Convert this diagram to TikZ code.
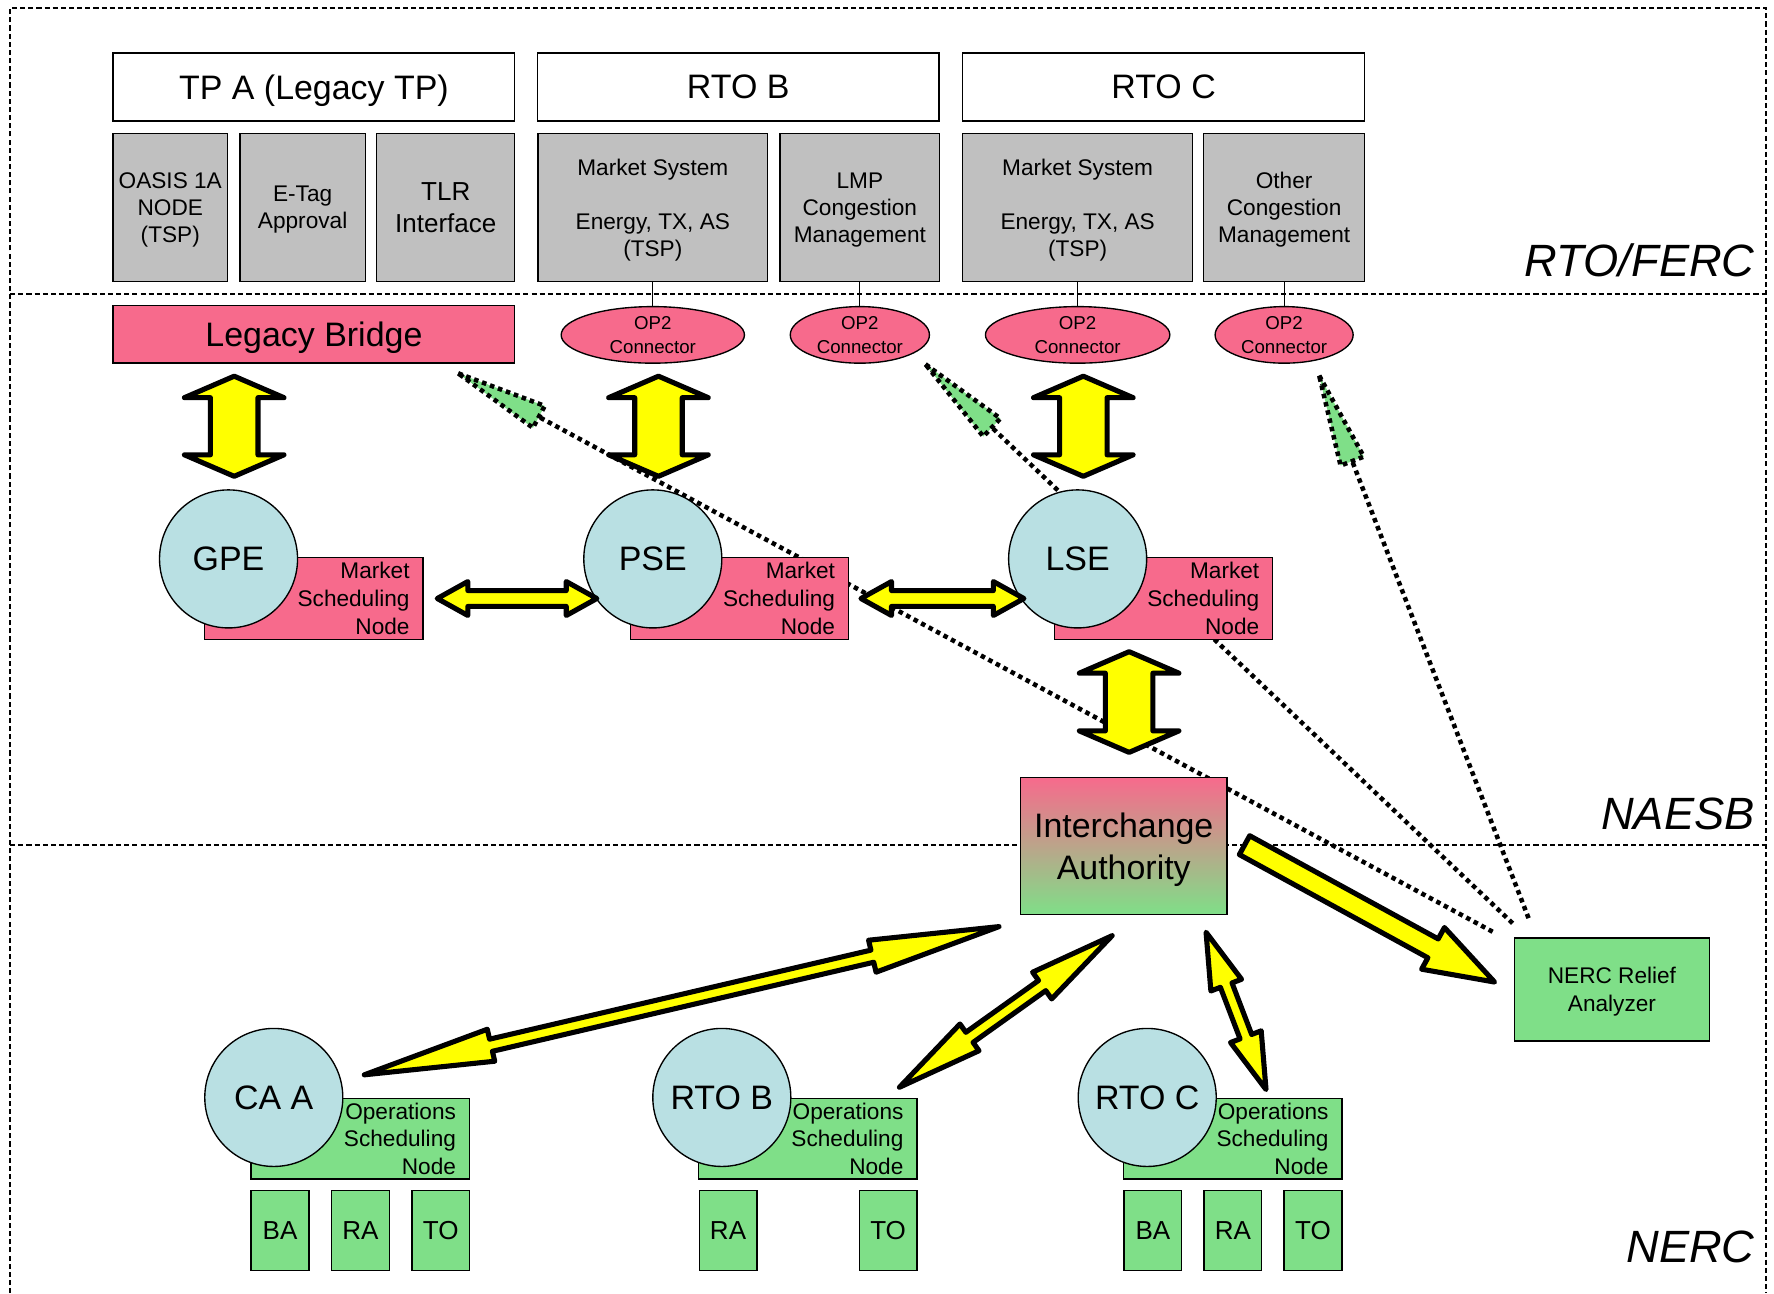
\documentclass[tikz,border=0pt]{standalone}
\usepackage{fontspec}
\setmainfont{Liberation Sans}
\usetikzlibrary{calc,shapes.geometric}
\definecolor{pinkc}{HTML}{F76A8C}
\definecolor{greenc}{HTML}{7FDF88}
\definecolor{bluec}{HTML}{B9E0E3}
\definecolor{grayc}{HTML}{C0C0C0}
\definecolor{yelc}{HTML}{FFFF00}
\newcommand\fsz[2]{\fontsize{#1pt}{#2pt}\selectfont}
\tikzset{
  secline/.style={line width=1.7pt, dash pattern=on 4.5pt off 2.7pt},
  seclabel/.style={font=\fsz{40}{48}\itshape, inner sep=0pt},
  boxb/.style={draw=black, line width=1.2pt, inner sep=0pt, align=center},
  box/.style={boxb, text depth=0pt},
  hdr/.style={box, fill=white, minimum width=355pt, minimum height=60pt, font=\fsz{30}{36}},
  graybox/.style={box, fill=grayc, minimum height=131pt, font=\fsz{20}{24}},
  opcon/.style={ellipse, draw=black, line width=1.2pt, fill=pinkc, inner sep=0pt, minimum height=50pt, align=center, font=\fsz{16.5}{21}},
  msn/.style={boxb, fill=pinkc, minimum height=72pt, text width=169pt, inner xsep=12pt, align=right, font=\fsz{20}{24.5}},
  osn/.style={boxb, fill=greenc, minimum height=71pt, text width=169pt, inner xsep=12pt, align=right, font=\fsz{20}{24.5}},
  circ/.style={circle, draw=black, line width=1.2pt, fill=bluec, minimum size=122pt, inner sep=0pt, font=\fsz{30}{36}},
  small/.style={box, fill=greenc, minimum width=51pt, minimum height=71pt, font=\fsz{23}{28}},
  blockarrow/.style={draw=black, line width=4.5pt, line join=round, fill=yelc},
  dotline/.style={line width=4pt, dash pattern=on 4pt off 3.5pt},
}
\newcommand\DblArrow[5]{%
  \draw[blockarrow] (#1)
   -- ($(#1)!#5!(#2)!#4!90:(#2)$)
   -- ($(#1)!#5!(#2)!#3!90:(#2)$)
   -- ($(#2)!#5!(#1)!#3!-90:(#1)$)
   -- ($(#2)!#5!(#1)!#4!-90:(#1)$)
   -- (#2)
   -- ($(#2)!#5!(#1)!#4!90:(#1)$)
   -- ($(#2)!#5!(#1)!#3!90:(#1)$)
   -- ($(#1)!#5!(#2)!#3!-90:(#2)$)
   -- ($(#1)!#5!(#2)!#4!-90:(#2)$)
   -- cycle;}
\newcommand\SglArrow[5]{%
  \draw[blockarrow] ($(#1)!#3!90:(#2)$)
   -- ($(#2)!#5!(#1)!#3!-90:(#1)$)
   -- ($(#2)!#5!(#1)!#4!-90:(#1)$)
   -- (#2)
   -- ($(#2)!#5!(#1)!#4!90:(#1)$)
   -- ($(#2)!#5!(#1)!#3!90:(#1)$)
   -- ($(#1)!#3!-90:(#2)$)
   -- cycle;}
\newcommand\GreenHead[4]{%
  \draw[dotline, fill=greenc] (#1)
   -- ($(#1)!#3!(#2)!#4!90:(#2)$)
   -- ($(#1)!#3!(#2)!#4!-90:(#2)$)
   -- cycle;}
\begin{document}
\begin{tikzpicture}[x=1pt,y=-1pt]
\useasboundingbox (0,0) rectangle (1568,1143);
% section frames
\draw[secline] (9,1143) -- (9,7) -- (1561,7) -- (1561,1143);
\draw[secline] (9,260) -- (1561,260);
\draw[secline] (9,747) -- (1561,747);
\node[seclabel, anchor=base east] (lab1) at (1551,244.5) {RTO/FERC};
\node[seclabel, anchor=base east] (lab2) at (1551,733) {NAESB};
\node[seclabel, anchor=base east] (lab3) at (1551,1116) {NERC};
% headers
\node[hdr] (hA) at (277.5,77) {TP A (Legacy TP)};
\node[hdr] (hB) at (652.5,77) {RTO B};
\node[hdr] (hC) at (1028.5,77) {RTO C};
% gray boxes
\node[graybox, minimum width=101pt] (g1) at (150.5,183.5) {OASIS 1A\\NODE\\(TSP)};
\node[graybox, minimum width=111pt] (g2) at (267.5,183.5) {E-Tag\\Approval};
\node[graybox, minimum width=122pt, font=\fsz{23}{28}] (g3) at (394,183.5) {TLR\\Interface};
\node[graybox, minimum width=203pt] (g4) at (577,183.5) {Market System\\[24pt]Energy, TX, AS\\(TSP)};
\node[graybox, minimum width=141pt] (g5) at (760,183.5) {LMP\\Congestion\\Management};
\node[graybox, minimum width=203pt] (g6) at (952.5,183.5) {Market System\\[24pt]Energy, TX, AS\\(TSP)};
\node[graybox, minimum width=142pt] (g7) at (1135,183.5) {Other\\Congestion\\Management};
% legacy bridge and connectors
\node[box, fill=pinkc, minimum width=355pt, minimum height=51pt, font=\fsz{30}{36}] (lb) at (277.5,295.5) {Legacy Bridge};
\node[opcon, minimum width=162pt] (c1) at (577,296) {OP2\\Connector};
\node[opcon, minimum width=123pt] (c2) at (760,296) {OP2\\Connector};
\node[opcon, minimum width=163pt] (c3) at (952.5,296) {OP2\\Connector};
\node[opcon, minimum width=122pt] (c4) at (1135,296) {OP2\\Connector};
\draw[line width=1pt] (g4.south) -- (c1.north);
\draw[line width=1pt] (g5.south) -- (c2.north);
\draw[line width=1pt] (g6.south) -- (c3.north);
\draw[line width=1pt] (g7.south) -- (c4.north);
% dotted lines
\coordinate (t1) at (405,330);
\coordinate (e1) at (1322,825);
\coordinate (t2) at (818,322);
\coordinate (e2) at (1339,818);
\coordinate (t3) at (1166,332);
\coordinate (e3) at (1352,814);
\draw[dotline] (t1) -- (e1);
\draw[dotline] (t2) -- (e2);
\draw[dotline] (t3) -- (e3);
\GreenHead{t1}{e1}{81pt}{11pt}
\GreenHead{t2}{e2}{81pt}{11pt}
\GreenHead{t3}{e3}{81pt}{11pt}
% market scheduling nodes
\node[msn] (m1) at (277.5,529) {Market\\Scheduling\\Node};
\node[msn] (m2) at (653.5,529) {Market\\Scheduling\\Node};
\node[msn] (m3) at (1028.5,529) {Market\\Scheduling\\Node};
\node[circ] (gpe) at (202,494) {GPE};
\node[circ] (pse) at (577,494) {PSE};
\node[circ] (lse) at (952.5,494) {LSE};
% interchange authority
\node[box, top color=pinkc, bottom color=greenc, minimum width=182.5pt, minimum height=121.5pt, font=\fsz{30}{37}] (ia) at (993.25,747.75) {Interchange\\Authority};
% NERC relief
\node[box, fill=greenc, minimum width=172.5pt, minimum height=91pt, font=\fsz{20}{25}] (nra) at (1424.75,874.5) {NERC Relief\\Analyzer};
% operations scheduling nodes
\node[osn] (o1) at (318.5,1006.5) {Operations\\Scheduling\\Node};
\node[osn] (o2) at (714,1006.5) {Operations\\Scheduling\\Node};
\node[osn] (o3) at (1089.75,1006.5) {Operations\\Scheduling\\Node};
\node[circ] (caa) at (242,970) {CA A};
\node[circ] (rtob) at (638,970) {RTO B};
\node[circ] (rtoc) at (1014,970) {RTO C};
\node[small] (ba1) at (247.5,1087.5) {BA};
\node[small] (ra1) at (318.5,1087.5) {RA};
\node[small] (to1) at (389.5,1087.5) {TO};
\node[small] (ra2) at (643.5,1087.5) {RA};
\node[small] (to2) at (785,1087.5) {TO};
\node[small] (ba3) at (1019,1087.5) {BA};
\node[small] (ra3) at (1089.75,1087.5) {RA};
\node[small] (to3) at (1160.5,1087.5) {TO};
% block arrows
\coordinate (v1a) at (207,332.5);   \coordinate (v1b) at (207,421);
\coordinate (v2a) at (582,332.5);   \coordinate (v2b) at (582,421);
\coordinate (v3a) at (957.5,332.5); \coordinate (v3b) at (957.5,421);
\coordinate (v4a) at (998,576);     \coordinate (v4b) at (998,665);
\DblArrow{v1a}{v1b}{21pt}{44pt}{19pt}
\DblArrow{v2a}{v2b}{21pt}{44pt}{19pt}
\DblArrow{v3a}{v3b}{21pt}{44pt}{19pt}
\DblArrow{v4a}{v4b}{21pt}{44pt}{19pt}
\coordinate (h1a) at (386.5,529); \coordinate (h1b) at (527.5,529);
\coordinate (h2a) at (761,529);   \coordinate (h2b) at (905,529);
\DblArrow{h1a}{h1b}{7pt}{15pt}{27pt}
\DblArrow{h2a}{h2b}{7pt}{15pt}{27pt}
\coordinate (d1a) at (883,819); \coordinate (d1b) at (322,950);
\coordinate (d2a) at (983,827); \coordinate (d2b) at (795,961);
\coordinate (d3a) at (1066,824); \coordinate (d3b) at (1119,963);
\DblArrow{d1a}{d1b}{5.5pt}{14.5pt}{115pt}
\DblArrow{d2a}{d2b}{5.5pt}{14.5pt}{76pt}
\DblArrow{d3a}{d3b}{5.5pt}{14.5pt}{50pt}
\coordinate (s1a) at (1100,747); \coordinate (s1b) at (1321,868);
\SglArrow{s1a}{s1b}{9.5pt}{21pt}{62pt}
\end{tikzpicture}
\end{document}
